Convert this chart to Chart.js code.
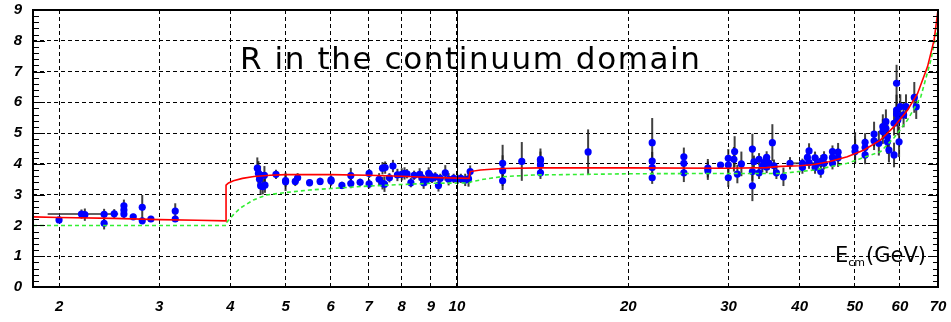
<!DOCTYPE html>
<html><head><meta charset="utf-8">
<script src="https://cdn.jsdelivr.net/npm/chart.js@4"></script>
<style>html,body{margin:0;padding:0;background:#fff}#wrap{width:951px;height:322px}</style>
</head><body><div id="wrap"><canvas id="c" width="951" height="322"></canvas></div>
<script>
// ---- measured R values ----
const energy = [
 2.00,2.19,2.22,2.40,2.40,2.50,2.60,2.60,2.60,2.70,2.80,2.80,2.90,3.20,3.20,
 4.46,4.48,4.51,4.50,4.52,4.56,4.60,4.59,4.81,5.00,5.00,5.20,5.25,5.51,5.75,6.01,6.01,6.28,6.51,6.51,6.76,7.01,7.01,
 7.30,7.40,7.48,7.40,7.46,7.61,7.72,7.86,8.00,8.09,8.17,8.30,8.41,8.60,8.68,8.74,8.83,8.92,8.97,9.04,9.16,9.28,9.35,9.54,9.67,9.87,10.03,10.16,10.34,10.48,10.55,
 12.03,12.03,12.03,13.0,14.02,14.02,14.02,14.02,17.0,
 22.03,22.03,22.03,22.03,25.04,25.04,25.04,27.59,27.59,29.05,29.97,29.97,29.97,30.66,30.75,31.09,31.6,
 33.04,33.04,33.04,33.25,33.94,33.94,34.4,34.63,35.0,35.0,35.34,35.82,36.06,36.41,37.46,38.47,
 40.45,40.45,41.28,41.55,41.55,42.57,42.57,43.0,43.56,43.67,44.15,44.15,45.68,45.68,45.68,46.73,46.73,
 50.05,50.05,52.12,52.12,52.12,54.05,54.05,55.1,56.0,56.0,56.7,56.7,57.05,57.05,57.4,58.6,58.6,
 59.2,59.2,59.2,59.5,59.8,60.1,60.9,61.5,63.6,64.1
];
const rValue = [
 2.18,2.37,2.35,2.36,2.07,2.38,2.64,2.50,2.37,2.28,2.59,2.15,2.21,2.47,2.21,
 3.86,3.69,3.64,3.50,3.29,3.26,3.31,3.63,3.66,3.42,3.46,3.43,3.55,3.39,3.43,3.48,3.44,3.30,3.36,3.62,3.40,3.69,3.35,
 3.50,3.86,3.88,3.37,3.34,3.55,3.93,3.64,3.66,3.69,3.68,3.39,3.63,3.66,3.55,3.39,3.45,3.69,3.63,3.53,3.58,3.30,3.53,3.71,3.50,3.53,3.50,3.53,3.48,3.51,3.75,
 4.02,3.78,3.45,4.08,4.15,4.10,3.96,3.71,4.39,
 4.69,4.09,3.88,3.55,4.23,4.02,3.71,3.86,3.78,3.96,4.18,3.96,3.55,4.15,4.40,3.67,4.00,
 4.48,3.75,3.29,4.07,4.15,3.71,3.93,4.04,4.21,3.90,4.02,4.69,3.94,3.71,3.58,4.02,
 4.02,3.88,4.21,4.42,4.04,4.20,3.88,4.02,3.75,4.09,4.21,4.02,4.40,4.21,4.02,4.38,4.20,
 4.53,4.40,4.70,4.53,4.29,4.97,4.75,4.67,5.21,5.05,5.37,5.15,4.88,4.72,4.45,5.32,4.29,
 6.62,5.75,5.62,5.43,4.72,5.86,5.59,5.86,6.16,5.86
];
const rError = [
 0.06,0.15,0.20,0.18,0.20,0.15,0.20,0.15,0.15,0.10,0.40,0.10,0.10,0.25,0.10,
 0.35,0.40,0.30,0.30,0.30,0.25,0.25,0.30,0.15,0.30,0.20,0.15,0.15,0.12,0.12,0.15,0.15,0.12,0.15,0.25,0.12,0.15,0.15,
 0.20,0.20,0.20,0.20,0.25,0.15,0.20,0.20,0.20,0.20,0.15,0.15,0.15,0.20,0.20,0.20,0.15,0.20,0.15,0.15,0.15,0.20,0.15,0.25,0.20,0.15,0.15,0.15,0.20,0.25,0.20,
 0.60,0.50,0.30,0.63,0.35,0.30,0.25,0.20,0.73,
 0.80,0.30,0.25,0.20,0.30,0.25,0.30,0.30,0.30,0.10,0.30,0.25,0.30,0.40,0.50,0.30,0.40,
 0.50,0.30,0.50,0.20,0.20,0.20,0.20,0.20,0.20,0.20,0.20,0.60,0.20,0.20,0.30,0.20,
 0.15,0.20,0.25,0.25,0.20,0.20,0.20,0.20,0.20,0.20,0.20,0.20,0.20,0.20,0.20,0.30,0.30,
 0.50,0.40,0.30,0.30,0.30,0.40,0.30,0.40,0.40,0.40,0.40,0.30,0.40,0.40,0.40,0.40,0.40,
 0.60,0.50,0.40,0.50,0.50,0.40,0.40,0.40,0.50,0.40
];
// energy-bin (horizontal) bars
const binLow  = [1.91, 38.4];
const binHigh = [2.54, 43.0];
const binR    = [2.37, 4.02];

// ---- QCD prediction (red) ----
const qcdEnergy = [1.8,2.0,2.5,3.0,3.5,3.93,3.93,3.97,4.05,4.2,4.4,4.7,5.0,6.0,7.0,8.0,9.0,10.5,10.55,11.0,12.0,14.0,20.0,30.0,35.0,37.0,40.0,42.4,45.0,48.5,51.9,55.5,58.6,61.9,64.45,67.1,68.9,70.0];
const qcdR      = [2.28,2.26,2.23,2.19,2.17,2.15,3.31,3.38,3.45,3.53,3.59,3.63,3.65,3.65,3.63,3.60,3.56,3.53,3.75,3.80,3.85,3.87,3.87,3.86,3.88,3.92,3.94,3.98,4.07,4.23,4.45,4.78,5.21,5.75,6.29,7.16,8.02,9.00];
// ---- parton model (green dashed) ----
const partonEnergy = [1.8,3.93,3.94,4.05,4.16,4.39,4.63,5.0,5.5,6.0,7.0,8.0,9.0,10.5,10.6,11.14,11.92,13.64,17.0,20.0,30.0,37.0,42.4,48.5,55.5,58.6,61.9,65.3,68.0,69.9,70.0];
const partonR      = [2.00,2.00,2.10,2.35,2.56,2.83,2.99,3.07,3.15,3.20,3.28,3.33,3.37,3.38,3.42,3.50,3.58,3.64,3.66,3.68,3.69,3.69,3.80,4.02,4.40,4.85,5.43,6.18,7.37,8.46,8.60];

const xTickValues = [2,3,4,5,6,7,8,9,10,20,30,40,50,60,70];
const yTickValues = [0,1,2,3,4,5,6,7,8,9];
const titleText = 'R in the continuum domain';
const axisLabelMain = 'E', axisLabelSub = 'cm', axisLabelUnit = '(GeV)';

const tickFont = {family:'"Liberation Sans", Arial, sans-serif', weight:'bold', style:'italic', size:15};

const framePlugin = {
  id:'frame',
  beforeDatasetDraw(chart, args){
    if (args.index !== 2) return;
    const ctx = chart.ctx, xs = chart.scales.x, ys = chart.scales.y;
    ctx.save();
    ctx.beginPath();
    ctx.rect(chart.chartArea.left, chart.chartArea.top, chart.chartArea.width, chart.chartArea.height);
    ctx.clip();
    ctx.strokeStyle = 'rgba(30,30,30,0.85)';
    ctx.lineWidth = 2;
    for (let i=0;i<energy.length;i++){
      const x = xs.getPixelForValue(energy[i]);
      ctx.beginPath();
      ctx.moveTo(x, ys.getPixelForValue(rValue[i]-rError[i]));
      ctx.lineTo(x, ys.getPixelForValue(rValue[i]+rError[i]));
      ctx.stroke();
    }
    ctx.strokeStyle = 'rgba(60,60,60,0.8)';
    for (let i=0;i<binLow.length;i++){
      const y = ys.getPixelForValue(binR[i]);
      ctx.beginPath();
      ctx.moveTo(xs.getPixelForValue(binLow[i]), y);
      ctx.lineTo(xs.getPixelForValue(binHigh[i]), y);
      ctx.stroke();
    }
    ctx.restore();
  },
  afterDraw(chart){
    const ctx = chart.ctx, a = chart.chartArea, ys = chart.scales.y, xs = chart.scales.x;
    ctx.save();
    ctx.strokeStyle = '#000'; ctx.lineWidth = 1;
    const x10 = Math.round(xs.getPixelForValue(10)) + 0.5;
    ctx.beginPath(); ctx.moveTo(x10, a.top); ctx.lineTo(x10, a.bottom); ctx.stroke();
    for (let v=0; v<=9.0001; v+=0.2){
      const y = Math.round(ys.getPixelForValue(v)) + 0.5;
      const major = Math.abs(v - Math.round(v)) < 1e-6;
      ctx.beginPath();
      ctx.moveTo(a.left, y); ctx.lineTo(a.left + (major?12:6), y);
      ctx.moveTo(a.right, y); ctx.lineTo(a.right - (major?10:5), y);
      ctx.stroke();
    }
    ctx.lineWidth = 2;
    ctx.strokeRect(a.left, a.top, a.width, a.height);
    ctx.fillStyle = '#000';
    ctx.font = '31px "DejaVu Sans"';
    ctx.textBaseline = 'alphabetic';
    const w = ctx.measureText(titleText).width;
    const sp = (460 - w) / (titleText.length - 1);
    ctx.letterSpacing = sp.toFixed(2) + 'px';
    ctx.fillText(titleText, 240, 69);
    ctx.letterSpacing = '0px';
    let x = 835;
    ctx.font = '21px "DejaVu Sans"';
    ctx.fillText(axisLabelMain, x, 262); x += ctx.measureText(axisLabelMain).width;
    ctx.font = '11px "DejaVu Sans"';
    ctx.fillText(axisLabelSub, x, 266); x += ctx.measureText(axisLabelSub).width + 1;
    ctx.font = '21px "DejaVu Sans"';
    ctx.fillText(axisLabelUnit, x, 262);
    ctx.restore();
  }
};

new Chart(document.getElementById('c'), {
  type:'scatter',
  data:{
    datasets:[
      {type:'line', data: qcdEnergy.map((e,i)=>({x:e,y:qcdR[i]})), borderColor:'#ff0000', borderWidth:1.6, pointRadius:0, tension:0, fill:false},
      {type:'line', data: partonEnergy.map((e,i)=>({x:e,y:partonR[i]})), borderColor:'#33ee33', borderWidth:1.6, borderDash:[4,3], pointRadius:0, tension:0, fill:false},
      {type:'scatter', data: energy.map((e,i)=>({x:e,y:rValue[i]})), backgroundColor:'#0000ff', borderWidth:0, pointRadius:3.6}
    ]
  },
  options:{
    responsive:false, animation:false, devicePixelRatio:1,
    layout:{padding:{top:10,right:13,left:0,bottom:0}},
    plugins:{legend:{display:false}, tooltip:{enabled:false}, title:{display:false}},
    scales:{
      x:{type:'logarithmic', min:1.8, max:70,
        afterBuildTicks(s){ s.ticks = xTickValues.map(v=>({value:v})); },
        afterFit(s){ s.height = 35; s.paddingLeft = 0; s.paddingRight = 0; },
        ticks:{autoSkip:false, maxRotation:0, callback:(v)=>String(v), font:tickFont, color:'#000', padding:11},
        grid:{color:'#000', lineWidth:1, drawTicks:false},
        border:{display:false, dash:[4,3]}
      },
      y:{type:'linear', min:0, max:9,
        afterBuildTicks(s){ s.ticks = yTickValues.map(v=>({value:v})); },
        afterFit(s){ s.width = 33; s.paddingTop = 0; s.paddingBottom = 0; },
        ticks:{font:tickFont, color:'#000', padding:11},
        grid:{color:'#000', lineWidth:1, drawTicks:false},
        border:{display:false, dash:[4,3]}
      }
    }
  },
  plugins:[framePlugin]
});
</script></body></html>
